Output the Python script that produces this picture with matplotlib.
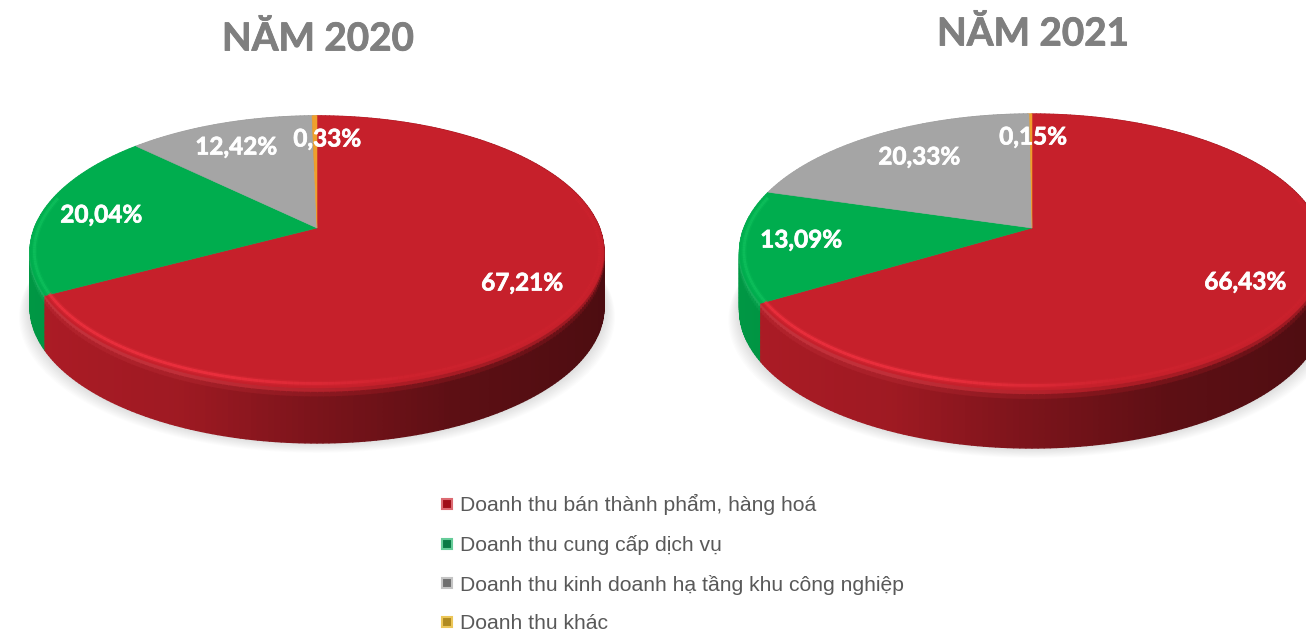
import numpy as np
import matplotlib.pyplot as plt
import matplotlib.patheffects as pe
from matplotlib.collections import PolyCollection, LineCollection
from matplotlib.colors import to_rgb
from matplotlib.lines import Line2D

# du lieu
categories = ["Doanh thu bán thành phẩm, hàng hoá", "Doanh thu cung cấp dịch vụ",
              "Doanh thu kinh doanh hạ tầng khu công nghiệp", "Doanh thu khác"]
shares_2020 = [67.21, 20.04, 12.42, 0.33]
shares_2021 = [66.43, 13.09, 20.33, 0.15]

colors = ["#c6202b", "#00ad4e", "#a5a5a5", "#eFA02c"]
legend_dark = ["#a00d18", "#0a7a45", "#6f6f6f", "#b08a20"]
legend_light = ["#dc6a72", "#66cc99", "#c4c4c4", "#ecc658"]


def project(theta, geo):
    # goc tinh tu dinh, theo chieu kim dong ho -> toa do tren anh (co phoi canh)
    cx, cy, rx, ry, k = geo
    u, v = np.sin(theta), np.cos(theta)
    w = 1 + k * v
    return cx + rx * u / w, cy - ry * v / w


def draw_pie(ax, shares, geo, depth):
    edges = np.radians(np.concatenate([[0], np.cumsum(shares)]) / sum(shares) * 360)
    t = np.linspace(0, 2 * np.pi, 361)
    x, y = project(t, geo)

    # bong mo
    for i in range(12):
        s = 1 + i * 0.0035
        ax.fill(geo[0] + (x - geo[0]) * s, y + depth + i * 0.9, color="black", alpha=0.012, lw=0, zorder=1)

    # thanh ben
    polys, cols = [], []
    rows = np.linspace(0, 1, 13)
    order = np.argsort(-np.cos(t[:-1]))
    for j in order:
        mid = (t[j] + t[j + 1]) / 2
        idx = min(np.searchsorted(edges, mid) - 1, len(shares) - 1)
        base = np.array(to_rgb(colors[idx]))
        u = np.sin(mid)
        f = np.interp(u, [-1, -0.4, 0, 0.4, 1], [0.88, 0.8, 0.62, 0.47, 0.38])
        h = np.interp(u, [-1, -0.4, 0.2, 1], [0.12, 0.1, 0.0, -0.1])
        top = np.clip(base + h * (1 - base), 0, 1) if h > 0 else base * (1 + h)
        for a, b in zip(rows[:-1], rows[1:]):
            polys.append([(x[j], y[j] + depth * a), (x[j + 1], y[j + 1] + depth * a),
                          (x[j + 1], y[j + 1] + depth * b), (x[j], y[j] + depth * b)])
            s = np.clip((a + b) / 2 / 0.16, 0, 1)
            cols.append(top * (1 - s) + base * f * s)
    ax.add_collection(PolyCollection(polys, facecolors=cols, edgecolors=cols, linewidths=1.0, zorder=2))

    # mat tren
    for i, c in enumerate(colors):
        th = np.linspace(edges[i], edges[i + 1], 200)
        px, py = project(th, geo)
        ax.fill(np.r_[geo[0], px], np.r_[geo[1], py], color=c, lw=0.4, zorder=3)

    # vien sang o mep duoi, nam han trong mat tren
    geo2 = (geo[0], geo[1], geo[2] * 0.985, geo[3] * 0.972, geo[4])
    hx, hy = project(t, geo2)
    segs, seg_cols = [], []
    for j in range(360):
        mid = (t[j] + t[j + 1]) / 2
        if np.cos(mid) > 0.25:
            continue
        idx = min(np.searchsorted(edges, mid) - 1, len(shares) - 1)
        light = {0: (1.0, 0.22, 0.28), 1: (0.08, 0.78, 0.38)}.get(idx, to_rgb(colors[idx]))
        al = np.interp(np.sin(mid), [-1, -0.3, 0.25, 0.8], [0.5, 0.55, 0.1, 0.06])
        segs.append([(hx[j], hy[j]), (hx[j + 1], hy[j + 1])])
        seg_cols.append((*light, al))
    ax.add_collection(LineCollection(segs, colors=[(*c[:3], c[3] * 0.35) for c in seg_cols], linewidths=4, zorder=4))
    ax.add_collection(LineCollection(segs, colors=seg_cols, linewidths=2, zorder=4))


def pct(v):
    return f"{v:.2f}%".replace(".", ",")


fig = plt.figure(figsize=(13.06, 6.32), dpi=100)
ax = fig.add_axes([0, 0, 1, 1])
ax.set_xlim(0, 1306)
ax.set_ylim(632, 0)
ax.axis("off")

draw_pie(ax, shares_2020, (317, 228, 282.5, 131.8, 0.176), 55)
draw_pie(ax, shares_2021, (1032, 228, 288, 133.8, 0.174), 58)

title_fx = [pe.withStroke(linewidth=0.6, foreground="#7f7f7f")]
ax.text(318, 39, "NĂM 2020", ha="center", va="center", fontsize=27.8, fontweight="bold",
        color="#7f7f7f", family=["Lato", "Open Sans"], path_effects=title_fx)
ax.text(1033, 34, "NĂM 2021", ha="center", va="center", fontsize=27.8, fontweight="bold",
        color="#7f7f7f", family=["Lato", "Open Sans"], path_effects=title_fx)

label_fx = [pe.withStroke(linewidth=0.5, foreground="white")]
pos_2020 = [(522, 283), (101, 215), (236, 147), (327, 139)]
pos_2021 = [(1245, 282), (801, 240), (919, 157), (1033, 137)]
for shares, pos in [(shares_2020, pos_2020), (shares_2021, pos_2021)]:
    for v, (px, py) in zip(shares, pos):
        ax.text(px, py, pct(v), ha="center", va="center", fontsize=17.5, fontweight="bold",
                color="white", family=["Lato", "Open Sans"], zorder=6, path_effects=label_fx)

handles = [Line2D([], [], linestyle="none", marker="s", markersize=7.5, markerfacecolor=d,
                  markeredgecolor=l, markeredgewidth=1.5) for d, l in zip(legend_dark, legend_light)]
fig.legend(handles, categories, loc="lower left", bbox_to_anchor=(434 / 1306, -0.002), frameon=False,
           prop={"family": "Liberation Sans", "size": 15.2}, labelcolor="#595959", labelspacing=0.93,
           handletextpad=0.02, handlelength=1.2, borderpad=0, borderaxespad=0)

fig.savefig("out.png", dpi=100)
